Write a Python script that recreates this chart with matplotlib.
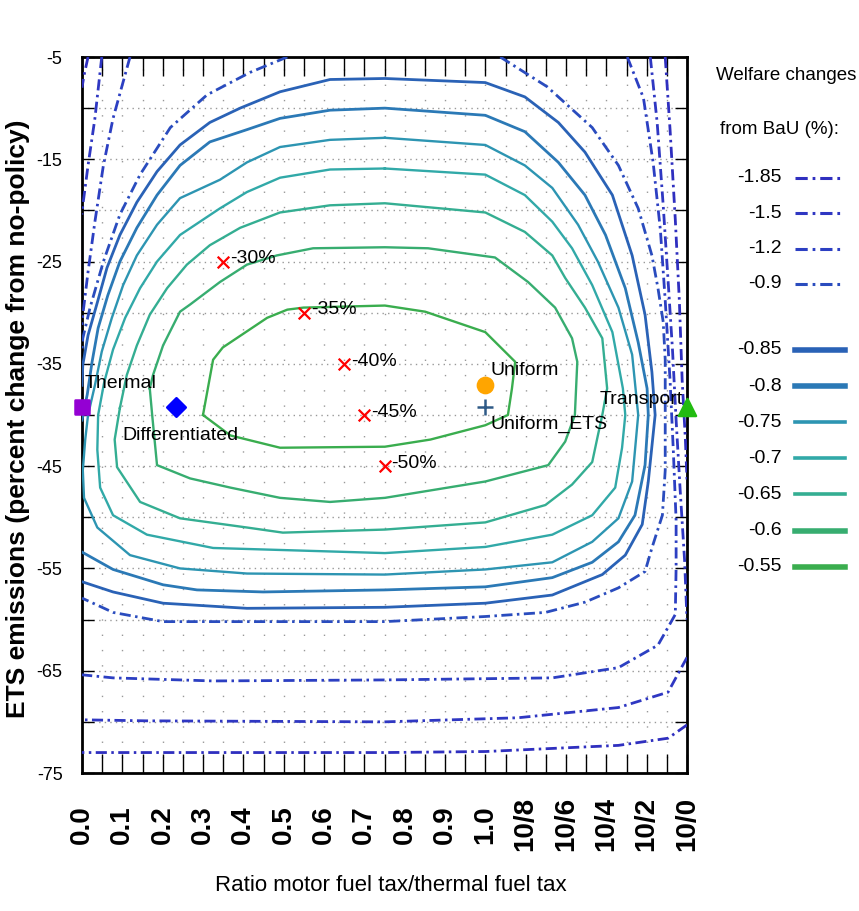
import matplotlib
matplotlib.use('Agg')
import matplotlib.pyplot as plt
from matplotlib.lines import Line2D

# lletra tipus Arial (Liberation Sans) per a tot el text
plt.rcParams['font.family'] = ['Liberation Sans', 'DejaVu Sans']

# ---------------- dades llegides de la figura ----------------
# eix x: una posició per etiqueta (0 ... 15)
xtick_labels = ['0.0', '0.1', '0.2', '0.3', '0.4', '0.5', '0.6', '0.7', '0.8', '0.9', '1.0',
                '10/8', '10/6', '10/4', '10/2', '10/0']
ytick_major = [-5, -15, -25, -35, -45, -55, -65, -75]
ytick_minor = [-10, -20, -30, -40, -50, -60, -70]

# nivells de les corbes (canvi de benestar respecte BaU, %)
levels_dashdot = [-1.85, -1.5, -1.2, -0.9]
levels_solid = [-0.85, -0.8, -0.75, -0.7, -0.65, -0.6, -0.55]

# traçats de les corbes (x = posició de la ràtio, y = emissions ETS %)
w185_a = [(0.15, -5.0), (0.05, -6.8), (0.00, -8.0)]
w185_b = [(14.46, -5.0), (14.58, -12.1), (14.71, -20.9), (14.81, -28.8), (14.88, -36.6),
          (14.96, -42.4), (15.00, -46.3)]
w185_c = [(15.00, -70.3), (14.53, -71.6), (13.30, -72.3), (10.00, -72.9), (7.51, -73.0),
          (0.02, -73.0), (0.00, -72.9)]

w150_a = [(0.49, -5.0), (0.32, -11.0), (0.15, -15.6), (0.02, -19.5), (0.00, -20.4)]
w150_b = [(14.09, -5.0), (14.26, -11.4), (14.41, -19.5), (14.53, -26.8), (14.64, -33.6),
          (14.73, -40.5), (14.83, -47.3), (14.94, -54.2), (15.00, -60.0)]
w150_c = [(15.00, -63.7), (14.53, -67.1), (13.30, -68.6), (10.81, -69.6), (7.51, -70.0),
          (1.61, -69.9), (0.00, -69.8)]

w120_a = [(1.19, -5.0), (0.77, -11.0), (0.53, -15.6), (0.32, -21.1), (0.15, -26.0),
          (0.02, -30.2), (0.00, -31.2)]
w120_b = [(13.52, -5.0), (13.92, -9.0), (14.16, -15.3), (14.34, -21.9), (14.46, -28.8),
          (14.58, -36.6), (14.66, -43.4), (14.73, -50.3), (14.73, -54.9), (14.71, -59.5),
          (14.28, -62.5), (13.30, -64.7), (11.66, -65.7), (7.51, -65.9), (3.25, -66.0),
          (0.77, -65.7), (0.00, -65.4)]

w090_a = [(5.09, -5.0), (4.17, -6.5), (3.10, -8.7), (2.19, -11.9), (1.44, -16.5), (0.94, -20.4),
          (0.53, -25.0), (0.20, -29.5), (0.02, -32.5), (0.00, -33.6)]
w090_b = [(10.37, -5.0), (11.53, -7.9), (12.65, -11.9), (13.30, -15.6), (13.79, -19.8),
          (14.13, -24.4), (14.28, -27.6), (14.41, -30.9), (14.46, -34.6), (14.46, -40.0),
          (14.46, -45.4), (14.39, -49.8), (14.13, -53.0), (13.96, -55.3), (13.30, -56.9),
          (12.47, -58.3), (11.49, -59.3), (10.00, -59.7), (7.51, -60.2), (2.01, -60.2),
          (0.77, -59.3), (0.00, -57.9)]

w085 = [(0.00, -37.1), (0.02, -35.1), (0.15, -32.2), (0.38, -29.0), (0.62, -25.6), (0.94, -22.4),
        (1.36, -19.2), (1.86, -16.2), (2.43, -13.6), (3.17, -11.4), (3.92, -10.0), (4.91, -8.4),
        (6.15, -7.2), (7.51, -7.1), (10.00, -7.5), (10.98, -8.9), (11.81, -11.4), (12.47, -14.3),
        (13.15, -18.5), (13.64, -24.4), (13.96, -30.2), (14.13, -35.8), (14.21, -40.0),
        (14.04, -46.5), (13.89, -50.7), (13.47, -53.7), (12.90, -55.6), (11.66, -57.6),
        (10.00, -58.4), (7.51, -58.8), (4.09, -58.9), (2.01, -58.4), (0.77, -57.3), (0.00, -56.3)]

w080 = [(0.00, -40.5), (0.13, -38.0), (0.25, -34.8), (0.40, -31.5), (0.64, -28.3), (0.94, -25.0),
        (1.36, -21.7), (1.86, -18.5), (2.43, -15.6), (3.17, -13.3), (4.09, -12.1), (4.91, -11.0),
        (6.15, -10.2), (7.51, -10.0), (10.00, -10.7), (10.98, -12.3), (11.81, -15.3),
        (12.47, -18.5), (12.98, -22.4), (13.47, -27.6), (13.79, -32.9), (14.01, -37.4),
        (14.04, -40.0), (13.96, -44.9), (13.71, -49.8), (13.30, -52.4), (12.65, -54.4),
        (11.66, -55.9), (10.00, -56.8), (7.51, -57.1), (4.49, -57.3), (2.85, -57.1),
        (2.01, -56.6), (0.77, -55.1), (0.00, -53.4)]

w075 = [(7.51, -12.9), (6.15, -13.1), (4.91, -13.8), (4.09, -15.3), (3.42, -17.0), (2.43, -18.8),
        (1.86, -21.4), (1.36, -24.4), (1.02, -27.3), (0.74, -30.5), (0.49, -33.8), (0.32, -37.1),
        (0.15, -40.0), (0.08, -42.4), (0.02, -45.4), (0.05, -48.1), (0.38, -51.0), (1.19, -53.7),
        (2.43, -55.0), (4.09, -55.5), (7.51, -55.6), (10.00, -55.1), (11.66, -54.4),
        (12.65, -52.4), (13.30, -50.1), (13.64, -46.5), (13.79, -40.0), (13.64, -34.1),
        (13.30, -29.5), (12.79, -25.0), (12.30, -21.4), (11.66, -17.8), (10.98, -15.6),
        (10.00, -13.6), (7.51, -12.9)]

w070 = [(7.51, -15.9), (6.15, -16.0), (4.91, -16.8), (4.09, -18.2), (3.42, -19.8), (2.43, -22.4),
        (1.86, -25.0), (1.44, -27.6), (1.07, -30.5), (0.77, -33.6), (0.55, -36.8), (0.40, -40.0),
        (0.38, -43.4), (0.45, -47.1), (0.77, -49.8), (1.61, -51.7), (3.25, -53.0), (7.51, -53.5),
        (10.00, -52.9), (11.66, -51.7), (12.65, -49.8), (13.22, -47.1), (13.39, -43.2),
        (13.47, -40.0), (13.41, -37.4), (13.15, -31.9), (12.65, -27.3), (12.15, -23.7),
        (11.66, -21.1), (10.98, -18.5), (10.00, -16.5), (7.51, -15.9)]

w065 = [(0.94, -39.3), (1.11, -36.1), (1.36, -33.2), (1.68, -30.2), (2.11, -27.6), (2.60, -25.3),
        (3.17, -23.4), (3.92, -21.7), (4.91, -20.2), (6.15, -19.5), (7.51, -19.3), (10.00, -20.2),
        (10.98, -22.1), (11.66, -24.4), (11.98, -26.6), (12.47, -29.5), (12.90, -32.5),
        (13.02, -37.4), (12.90, -40.0), (12.79, -42.0), (12.65, -44.6), (12.15, -46.8),
        (11.49, -48.8), (10.00, -50.5), (7.51, -51.2), (4.98, -51.5), (4.09, -51.0),
        (2.43, -50.1), (1.44, -48.5), (0.87, -45.1), (0.81, -42.4), (0.94, -39.3)]

w060 = [(1.68, -37.4), (1.76, -36.1), (2.01, -33.2), (2.43, -29.9), (2.68, -29.2), (3.42, -27.0),
        (4.09, -25.3), (4.83, -24.4), (5.73, -23.7), (7.51, -23.6), (8.58, -23.7), (10.24, -24.6),
        (11.06, -27.0), (11.73, -29.5), (12.15, -32.5), (12.28, -34.8), (12.22, -40.0),
        (11.98, -42.6), (11.56, -44.9), (10.00, -46.5), (7.51, -48.1), (6.15, -48.5),
        (4.91, -48.1), (3.68, -47.1), (2.68, -46.2), (1.86, -44.9), (1.74, -40.0), (1.68, -37.4)]

w055 = [(3.00, -40.0), (3.25, -34.6), (3.49, -33.4), (4.59, -30.5), (5.09, -29.7), (5.49, -29.5),
        (7.51, -29.3), (8.51, -29.9), (10.00, -31.9), (10.74, -34.8), (10.66, -37.4),
        (10.56, -40.0), (10.00, -41.0), (8.64, -42.4), (7.51, -43.1), (4.91, -43.2),
        (3.68, -42.0), (3.00, -40.0)]

# punts de política
pt_names = ['Thermal', 'Differentiated', 'Uniform', 'Uniform_ETS', 'Transport']
pt_x = [0.0, 2.34, 10.0, 10.0, 15.0]
pt_y = [-39.2, -39.2, -37.1, -39.2, -39.2]

# objectius de reducció (creus vermelles)
tgt_labels = ['-30%', '-35%', '-40%', '-45%', '-50%']
tgt_x = [3.5, 5.5, 6.5, 7.0, 7.5]
tgt_y = [-25, -30, -35, -40, -45]

# ---------------- estil ----------------
paths = {
    -1.85: [w185_a, w185_b, w185_c],
    -1.5: [w150_a, w150_b, w150_c],
    -1.2: [w120_a, w120_b],
    -0.9: [w090_a, w090_b],
    -0.85: [w085], -0.8: [w080], -0.75: [w075], -0.7: [w070],
    -0.65: [w065], -0.6: [w060], -0.55: [w055],
}
colors = {
    -1.85: '#2f2fbf', -1.5: '#2f37c2', -1.2: '#2c3fc2', -0.9: '#2a4cbe',
    -0.85: '#2a62b6', -0.8: '#2b79b6', -0.75: '#2d95b2', -0.7: '#31a9a8',
    -0.65: '#34ae92', -0.6: '#37ad70', -0.55: '#3aad4e',
}
leg_lw = {-0.85: 4, -0.8: 4, -0.75: 2.6, -0.7: 2.6, -0.65: 2.6, -0.6: 4, -0.55: 4}
DASHDOT = (0, (4, 1.6, 0.9, 1.6))

fig = plt.figure(figsize=(8.59, 9.11), dpi=100)
ax = fig.add_axes([82 / 859, 1 - 773 / 911, 605 / 859, 716 / 911])
ax.set_xlim(0, 15)
ax.set_ylim(-75, -5)

for lev in levels_dashdot:
    for seg in paths[lev]:
        xs, ys = zip(*seg)
        ax.plot(xs, ys, color=colors[lev], lw=2.0, linestyle=DASHDOT, zorder=3)
for lev in levels_solid:
    for seg in paths[lev]:
        xs, ys = zip(*seg)
        ax.plot(xs, ys, color=colors[lev], lw=1.7 if lev > -0.8 else 2.0, zorder=3)

# creus i etiquetes d'objectius
ax.scatter(tgt_x, tgt_y, marker='x', s=70, color='#ff0000', linewidths=1.6, zorder=5)
for lab, x, y in zip(tgt_labels, tgt_x, tgt_y):
    ax.annotate(lab, (x, y), xytext=(5, 2), textcoords='offset points',
                ha='left', va='center', fontsize=14)

# punts de política
mk = {'Thermal': ('s', '#9400d3', 110), 'Differentiated': ('D', '#0000ff', 90),
      'Uniform': ('o', '#ffa500', 120), 'Uniform_ETS': ('+', '#2f5a87', 130),
      'Transport': ('^', '#22bb11', 150)}
offs = {'Thermal': ((2, 17), 'left'), 'Differentiated': ((-39, -21), 'left'),
        'Uniform': ((4, 11), 'left'), 'Uniform_ETS': ((4, -13), 'left'),
        'Transport': ((-3, 5), 'right')}
for name, x, y in zip(pt_names, pt_x, pt_y):
    m, c, s = mk[name]
    ax.scatter([x], [y], marker=m, color=c, s=s, linewidths=1.8, zorder=6, clip_on=False)
    (dx, dy), ha = offs[name]
    ax.annotate(name, (x, y), xytext=(dx, dy), textcoords='offset points',
                ha=ha, va='center', fontsize=14, zorder=7)

# eixos, marques i graella
ax.set_xticks(range(len(xtick_labels)))
ax.set_xticks([i + 0.5 for i in range(len(xtick_labels) - 1)], minor=True)
ax.set_xticklabels(xtick_labels, rotation=90, fontsize=20, fontweight='bold')
for t in ax.get_xticklabels():
    t.set_va('center')
ax.set_yticks(ytick_major)
ax.set_yticks(ytick_minor, minor=True)
ax.set_yticklabels([str(v) for v in ytick_major], fontsize=13)
ax.tick_params(axis='x', which='both', direction='in', length=14, width=1,
               top=True, bottom=True, pad=37)
ax.tick_params(axis='y', which='both', direction='in', length=8.5, width=1,
               left=True, right=True, pad=14)
ax.grid(True, which='both', axis='x', color='#999999', lw=1.0, linestyle=(0, (1, 10)))
ax.grid(True, which='both', axis='y', color='#999999', lw=1.0, linestyle=(0, (1, 3)))
ax.set_axisbelow(True)
for sp in ax.spines.values():
    sp.set_linewidth(2.0)
    sp.set_linestyle((0, (3, 1)))
    sp.set_color('black')

ax.set_xlabel('Ratio motor fuel tax/thermal fuel tax', fontsize=16)
ax.xaxis.set_label_coords(0.51, -0.142)
ax.set_ylabel('ETS emissions (percent change from no-policy)', fontsize=19,
              fontweight='bold')
ax.yaxis.label.set_va('center')
ax.yaxis.set_label_coords(-0.106, 0.495)

# llegenda manual (valor a l'esquerra, mostra de línia a la dreta)
fig.text(786 / 859, 1 - 75 / 911, 'Welfare changes', ha='center', va='center', fontsize=13.5)
fig.text(780 / 859, 1 - 130 / 911, 'from BaU (%):', ha='center', va='center', fontsize=13.5)
for k, lev in enumerate(levels_dashdot):
    yy = 1 - (178 + 35.3 * k) / 911
    fig.text(782 / 859, yy, f'{lev:g}', ha='right', va='center', fontsize=14)
    fig.add_artist(Line2D([795 / 859, 842 / 859], [yy, yy], transform=fig.transFigure,
                          color=colors[lev], lw=2.2, linestyle=DASHDOT))
for j, lev in enumerate(levels_solid):
    yy = 1 - (350 + 36.1 * j) / 911
    fig.text(782 / 859, yy, f'{lev:g}', ha='right', va='center', fontsize=14)
    fig.add_artist(Line2D([795 / 859, 845 / 859], [yy, yy], transform=fig.transFigure,
                          color=colors[lev], lw=leg_lw[lev]))

fig.savefig('out.png', dpi=100)
